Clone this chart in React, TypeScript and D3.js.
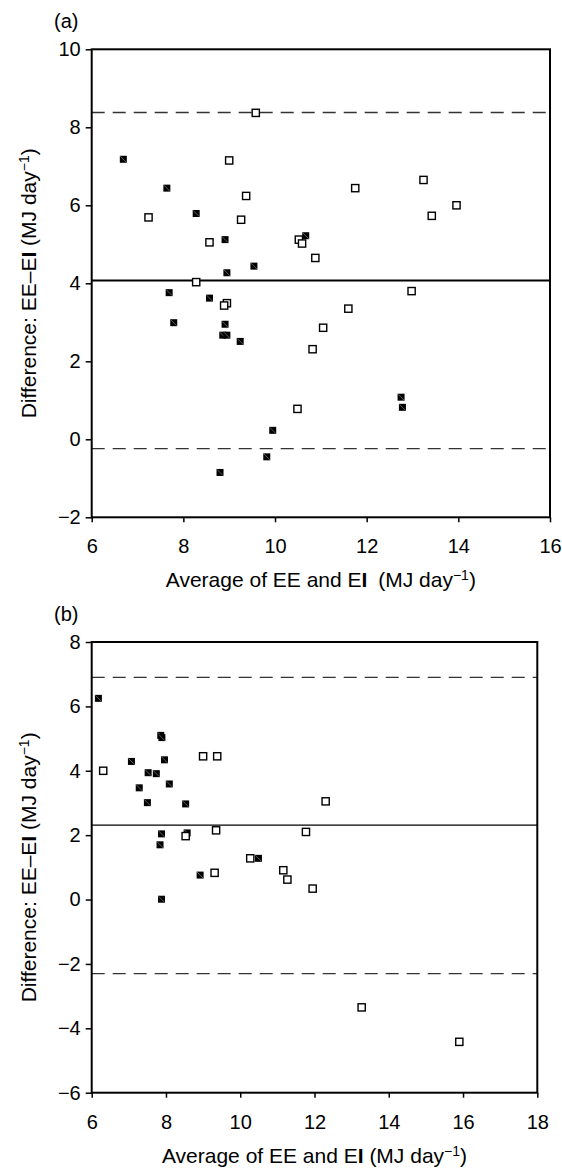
import React, { useEffect, useRef } from 'react';
import * as d3 from 'd3';

type Pt = [number, number];

// panel (a): [average, difference]
const aFilled: Pt[] = [
  [6.69, 7.18], [7.64, 6.44], [8.28, 5.79], [8.91, 5.12], [10.67, 5.22], [9.54, 4.44],
  [8.95, 4.27], [7.69, 3.76], [8.57, 3.62], [7.79, 2.99], [8.91, 2.95], [8.86, 2.67],
  [8.95, 2.67], [9.24, 2.51], [12.75, 1.08], [12.78, 0.82], [9.95, 0.23], [9.82, -0.45],
  [8.80, -0.85],
];
const aOpen: Pt[] = [
  [9.58, 8.37], [9.0, 7.15], [11.75, 6.44], [13.24, 6.65], [9.37, 6.24], [13.96, 6.0],
  [7.24, 5.69], [13.42, 5.73], [9.26, 5.63], [8.57, 5.05], [10.52, 5.12], [10.59, 5.02],
  [10.88, 4.65], [8.28, 4.03], [8.95, 3.49], [8.89, 3.43], [12.98, 3.80], [11.6, 3.35],
  [11.05, 2.86], [10.82, 2.31], [10.49, 0.78],
];
// panel (b)
const bFilled: Pt[] = [
  [6.18, 6.25], [7.86, 5.1], [7.89, 5.03], [7.07, 4.29], [7.96, 4.34], [7.52, 3.94],
  [7.74, 3.91], [7.28, 3.47], [8.09, 3.59], [7.50, 3.01], [8.53, 2.97], [7.88, 2.04],
  [8.57, 2.07], [7.84, 1.70], [10.49, 1.28], [8.92, 0.76], [7.88, 0.01],
];
const bOpen: Pt[] = [
  [6.31, 4.0], [9.0, 4.45], [9.38, 4.45], [12.30, 3.05], [9.35, 2.15], [11.77, 2.10],
  [8.53, 1.97], [10.27, 1.28], [9.31, 0.83], [11.16, 0.91], [11.27, 0.62], [11.95, 0.34],
  [13.27, -3.35], [15.90, -4.42],
];

const aXTicks = [6, 8, 10, 12, 14, 16];
const aYTicks = [-2, 0, 2, 4, 6, 8, 10];
const bXTicks = [6, 8, 10, 12, 14, 16, 18];
const bYTicks = [-6, -4, -2, 0, 2, 4, 6, 8];

// mean difference and limits of agreement
const aMean = 4.07;
const aLimits = [8.38, -0.24];
const bMean = 2.31;
const bLimits = [6.9, -2.3];

const FONT = "'Liberation Sans', Arial, Helvetica, sans-serif";

const fmt = (d: number) => (d < 0 ? '\u2212' + Math.abs(d) : String(d));

const Title = ({ gap }: { gap: boolean }) => (
  <>
    <tspan>Average of EE and E</tspan>
    <tspan fontWeight="bold">I</tspan>
    <tspan dx={gap ? 5 : 0}> (MJ day</tspan>
    <tspan dy={-7} fontSize={14}>{'\u22121'}</tspan>
    <tspan dy={7}>)</tspan>
  </>
);

const YTitle = () => (
  <>
    <tspan>Difference: EE–E</tspan>
    <tspan fontWeight="bold">I</tspan>
    <tspan> (MJ day</tspan>
    <tspan dy={-7} fontSize={14}>{'\u22121'}</tspan>
    <tspan dy={7}>)</tspan>
  </>
);

const Panel = props => {
  const { label, box, xDomain, yDomain, xTicks, yTicks, filled, open, mean, limits, meanWidth, gap } = props;
  const xRef = useRef(null);
  const yRef = useRef(null);
  const x = d3.scaleLinear().domain(xDomain).range([box.left, box.right]);
  const y = d3.scaleLinear().domain(yDomain).range([box.bottom, box.top]);

  useEffect(() => {
    const style = g => {
      g.select('.domain').remove();
      g.selectAll('line').attr('stroke', '#000').attr('stroke-width', 1.5);
      g.selectAll('text').attr('fill', '#000').style('font-size', '20px').style('font-family', FONT);
    };
    d3.select(xRef.current)
      .call(d3.axisBottom(x).tickValues(xTicks).tickSizeInner(5).tickSizeOuter(0).tickPadding(17).tickFormat(fmt))
      .call(style);
    d3.select(yRef.current)
      .call(d3.axisLeft(y).tickValues(yTicks).tickSizeInner(6).tickSizeOuter(0).tickPadding(5).tickFormat(fmt))
      .call(style);
  }, [x, y, xTicks, yTicks]);

  const cx = (box.left + box.right) / 2;
  const cy = (box.top + box.bottom) / 2;

  return (
    <g fontFamily={FONT}>
      <text x={54} y={box.top - 21} fontSize={20}>{label}</text>
      {limits.map((v, i) => (
        <line key={i} x1={box.left} x2={box.right} y1={y(v)} y2={y(v)}
          stroke="#333" strokeWidth={1.4} strokeDasharray="13,8" />
      ))}
      <line x1={box.left} x2={box.right} y1={y(mean)} y2={y(mean)} stroke="#000" strokeWidth={meanWidth} />
      {filled.map((d, i) => (
        <g key={'f' + i} transform={`translate(${x(d[0])},${y(d[1])})`}>
          <rect x={-3.5} y={-3.5} width={7} height={7} fill="#000" />
          <line x1={-3} y1={-3} x2={3} y2={3} stroke="#999" strokeWidth={0.6} />
        </g>
      ))}
      {open.map((d, i) => (
        <rect key={'o' + i} x={x(d[0]) - 3.6} y={y(d[1]) - 3.6} width={7.2} height={7.2}
          fill="#fff" stroke="#000" strokeWidth={1.4} />
      ))}
      <rect x={box.left} y={box.top} width={box.right - box.left} height={box.bottom - box.top}
        fill="none" stroke="#000" strokeWidth={2} />
      <g ref={xRef} transform={`translate(0,${box.bottom})`} />
      <g ref={yRef} transform={`translate(${box.left},0)`} />
      <text x={cx} y={box.bottom + 70} fontSize={21} textAnchor="middle"><Title gap={gap} /></text>
      <text transform={`translate(36,${cy}) rotate(-90)`} fontSize={21} textAnchor="middle"><YTitle /></text>
    </g>
  );
};

const App = () => (
  <svg width={562} height={1169} style={{ position: 'absolute', left: 0, top: 0, background: '#fff' }}>
    <Panel label="(a)" box={{ left: 91.7, right: 550, top: 49.3, bottom: 517.3 }}
      xDomain={[6, 16]} yDomain={[-2, 10]} xTicks={aXTicks} yTicks={aYTicks}
      filled={aFilled} open={aOpen} mean={aMean} limits={aLimits} meanWidth={2} gap={true} />
    <Panel label="(b)" box={{ left: 91.7, right: 537.3, top: 642, bottom: 1092.7 }}
      xDomain={[6, 18]} yDomain={[-6, 8]} xTicks={bXTicks} yTicks={bYTicks}
      filled={bFilled} open={bOpen} mean={bMean} limits={bLimits} meanWidth={1.2} gap={false} />
  </svg>
);

export default App;
